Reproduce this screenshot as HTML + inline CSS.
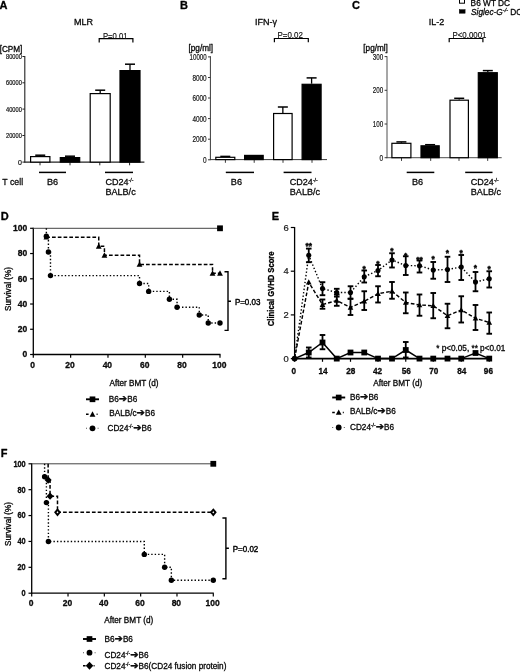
<!DOCTYPE html>
<html lang="en"><head><meta charset="utf-8"><title>Figure</title>
<style>
html,body{margin:0;padding:0;background:#fff;}
body{width:520px;height:672px;overflow:hidden;}
svg{display:block;filter:blur(0.4px);font-family:'Liberation Sans', Arial, Helvetica, sans-serif;}
text{stroke:#000;stroke-width:0.3px;stroke-linejoin:round;}
text.tk{stroke-width:0.2px;}
text.l{stroke-width:0.05px;}
text.n{stroke:none;}
text.m{stroke-width:0.15px;}
text.st{stroke-width:0.4px;}
</style></head><body>
<svg width="520" height="672" viewBox="0 0 520 672">
<rect x="0" y="0" width="520" height="672" fill="#fff"/>
<g id="panelA">
<text x="-0.40" y="9.30" font-size="11" text-anchor="start" font-weight="bold" fill="#000" >A</text>
<text x="83.60" y="24.60" font-size="9" text-anchor="middle" font-weight="normal" fill="#111" >MLR</text>
<text x="11.00" y="52.00" font-size="8.2" text-anchor="middle" font-weight="normal" fill="#111" >[CPM]</text>
<line x1="24.80" y1="56.00" x2="24.80" y2="162.60" stroke="#222" stroke-width="1.1" />
<line x1="24.30" y1="162.10" x2="144.40" y2="162.10" stroke="#222" stroke-width="1.1" />
<line x1="22.40" y1="56.50" x2="24.80" y2="56.50" stroke="#222" stroke-width="1" />
<text x="21.80" y="59.00" font-size="7" text-anchor="end" font-weight="normal" fill="#222" textLength="15.8" lengthAdjust="spacingAndGlyphs" class="tk">80000</text>
<line x1="22.40" y1="82.80" x2="24.80" y2="82.80" stroke="#222" stroke-width="1" />
<text x="21.80" y="85.30" font-size="7" text-anchor="end" font-weight="normal" fill="#222" textLength="15.8" lengthAdjust="spacingAndGlyphs" class="tk">60000</text>
<line x1="22.40" y1="109.10" x2="24.80" y2="109.10" stroke="#222" stroke-width="1" />
<text x="21.80" y="111.60" font-size="7" text-anchor="end" font-weight="normal" fill="#222" textLength="15.8" lengthAdjust="spacingAndGlyphs" class="tk">40000</text>
<line x1="22.40" y1="135.50" x2="24.80" y2="135.50" stroke="#222" stroke-width="1" />
<text x="21.80" y="138.00" font-size="7" text-anchor="end" font-weight="normal" fill="#222" textLength="15.8" lengthAdjust="spacingAndGlyphs" class="tk">20000</text>
<line x1="22.40" y1="162.10" x2="24.80" y2="162.10" stroke="#222" stroke-width="1" />
<text x="21.80" y="164.60" font-size="7" text-anchor="end" font-weight="normal" fill="#222" class="tk">0</text>
<line x1="40.00" y1="162.10" x2="40.00" y2="165.30" stroke="#222" stroke-width="1" />
<line x1="70.00" y1="162.10" x2="70.00" y2="165.30" stroke="#222" stroke-width="1" />
<line x1="99.80" y1="162.10" x2="99.80" y2="165.30" stroke="#222" stroke-width="1" />
<line x1="129.60" y1="162.10" x2="129.60" y2="165.30" stroke="#222" stroke-width="1" />
<line x1="40.25" y1="155.20" x2="40.25" y2="156.00" stroke="#000" stroke-width="1.3" />
<line x1="35.25" y1="155.20" x2="45.25" y2="155.20" stroke="#000" stroke-width="1.5" />
<rect x="30.60" y="156.60" width="19.30" height="5.50" fill="#fff" stroke="#000" stroke-width="1.2"/>
<line x1="70.00" y1="156.20" x2="70.00" y2="157.00" stroke="#000" stroke-width="1.3" />
<line x1="65.00" y1="156.20" x2="75.00" y2="156.20" stroke="#000" stroke-width="1.5" />
<rect x="60.30" y="157.60" width="19.40" height="4.50" fill="#000" stroke="#000" stroke-width="1.2"/>
<line x1="100.20" y1="90.20" x2="100.20" y2="93.00" stroke="#000" stroke-width="1.3" />
<line x1="95.20" y1="90.20" x2="105.20" y2="90.20" stroke="#000" stroke-width="1.5" />
<rect x="90.20" y="93.60" width="20.00" height="68.50" fill="#fff" stroke="#000" stroke-width="1.2"/>
<line x1="130.00" y1="64.20" x2="130.00" y2="70.00" stroke="#000" stroke-width="1.3" />
<line x1="125.00" y1="64.20" x2="135.00" y2="64.20" stroke="#000" stroke-width="1.5" />
<rect x="120.00" y="70.60" width="20.00" height="91.50" fill="#000" stroke="#000" stroke-width="1.2"/>
<line x1="39.00" y1="172.40" x2="66.00" y2="172.40" stroke="#000" stroke-width="1.5" />
<line x1="105.00" y1="172.40" x2="133.00" y2="172.40" stroke="#000" stroke-width="1.5" />
<text x="2.30" y="184.80" font-size="9.6" text-anchor="start" font-weight="normal" fill="#111" textLength="20.8" lengthAdjust="spacingAndGlyphs" >T cell</text>
<text x="46.90" y="184.80" font-size="9.6" text-anchor="start" font-weight="normal" fill="#111" textLength="11.2" lengthAdjust="spacingAndGlyphs" >B6</text>
<text x="105.40" y="184.80" font-size="9.6" fill="#111" textLength="28" lengthAdjust="spacingAndGlyphs">CD24<tspan font-size="5.5" dy="-2.9">-/-</tspan><tspan dy="2.9"></tspan></text>
<text x="105.40" y="195.40" font-size="9.6" text-anchor="start" font-weight="normal" fill="#111" textLength="30.3" lengthAdjust="spacingAndGlyphs" >BALB/c</text>
<path d="M99.20 42.50V38.70H132.90V42.50" fill="none" stroke="#000" stroke-width="1.2"/>
<text x="115.20" y="38.50" font-size="8.6" text-anchor="middle" font-weight="normal" fill="#111" textLength="24.6" lengthAdjust="spacingAndGlyphs" class="m">P=0.01</text>
</g>
<g id="panelB">
<text x="180.00" y="9.30" font-size="11" text-anchor="start" font-weight="bold" fill="#000" >B</text>
<text x="266.00" y="24.60" font-size="9" text-anchor="middle" font-weight="normal" fill="#111" >IFN-γ</text>
<text x="200.80" y="51.00" font-size="8.2" text-anchor="middle" font-weight="normal" fill="#111" >[pg/ml]</text>
<line x1="210.40" y1="56.20" x2="210.40" y2="160.10" stroke="#3a3a3a" stroke-width="1.0" />
<line x1="209.90" y1="159.60" x2="327.00" y2="159.60" stroke="#3a3a3a" stroke-width="1.0" />
<line x1="208.00" y1="56.90" x2="210.40" y2="56.90" stroke="#3a3a3a" stroke-width="1" />
<text x="206.60" y="60.00" font-size="8.8" text-anchor="end" font-weight="normal" fill="#222" textLength="17" lengthAdjust="spacingAndGlyphs" class="tk">10000</text>
<line x1="208.00" y1="77.50" x2="210.40" y2="77.50" stroke="#3a3a3a" stroke-width="1" />
<text x="206.60" y="80.60" font-size="8.8" text-anchor="end" font-weight="normal" fill="#222" textLength="14.2" lengthAdjust="spacingAndGlyphs" class="tk">8000</text>
<line x1="208.00" y1="98.00" x2="210.40" y2="98.00" stroke="#3a3a3a" stroke-width="1" />
<text x="206.60" y="101.10" font-size="8.8" text-anchor="end" font-weight="normal" fill="#222" textLength="14.2" lengthAdjust="spacingAndGlyphs" class="tk">6000</text>
<line x1="208.00" y1="118.60" x2="210.40" y2="118.60" stroke="#3a3a3a" stroke-width="1" />
<text x="206.60" y="121.70" font-size="8.8" text-anchor="end" font-weight="normal" fill="#222" textLength="14.2" lengthAdjust="spacingAndGlyphs" class="tk">4000</text>
<line x1="208.00" y1="139.20" x2="210.40" y2="139.20" stroke="#3a3a3a" stroke-width="1" />
<text x="206.60" y="142.30" font-size="8.8" text-anchor="end" font-weight="normal" fill="#222" textLength="14.2" lengthAdjust="spacingAndGlyphs" class="tk">2000</text>
<line x1="208.00" y1="159.80" x2="210.40" y2="159.80" stroke="#3a3a3a" stroke-width="1" />
<text x="206.60" y="162.90" font-size="8.8" text-anchor="end" font-weight="normal" fill="#222" textLength="3.6" lengthAdjust="spacingAndGlyphs" class="tk">0</text>
<line x1="225.40" y1="159.60" x2="225.40" y2="162.80" stroke="#3a3a3a" stroke-width="1" />
<line x1="254.20" y1="159.60" x2="254.20" y2="162.80" stroke="#3a3a3a" stroke-width="1" />
<line x1="283.00" y1="159.60" x2="283.00" y2="162.80" stroke="#3a3a3a" stroke-width="1" />
<line x1="312.00" y1="159.60" x2="312.00" y2="162.80" stroke="#3a3a3a" stroke-width="1" />
<line x1="225.30" y1="156.40" x2="225.30" y2="156.70" stroke="#000" stroke-width="1.3" />
<line x1="220.30" y1="156.40" x2="230.30" y2="156.40" stroke="#000" stroke-width="1.5" />
<rect x="215.80" y="157.30" width="19.00" height="2.30" fill="#fff" stroke="#000" stroke-width="1.2"/>
<rect x="244.60" y="155.40" width="18.60" height="4.20" fill="#000" stroke="#000" stroke-width="1.2"/>
<line x1="282.85" y1="107.00" x2="282.85" y2="112.90" stroke="#000" stroke-width="1.3" />
<line x1="277.85" y1="107.00" x2="287.85" y2="107.00" stroke="#000" stroke-width="1.5" />
<rect x="273.60" y="113.50" width="18.50" height="46.10" fill="#fff" stroke="#000" stroke-width="1.2"/>
<line x1="311.60" y1="77.90" x2="311.60" y2="83.70" stroke="#000" stroke-width="1.3" />
<line x1="306.60" y1="77.90" x2="316.60" y2="77.90" stroke="#000" stroke-width="1.5" />
<rect x="302.10" y="84.30" width="19.00" height="75.30" fill="#000" stroke="#000" stroke-width="1.2"/>
<line x1="225.80" y1="172.40" x2="254.00" y2="172.40" stroke="#000" stroke-width="1.5" />
<line x1="283.60" y1="172.40" x2="311.50" y2="172.40" stroke="#000" stroke-width="1.5" />
<text x="230.80" y="184.80" font-size="9.6" text-anchor="start" font-weight="normal" fill="#111" textLength="11.2" lengthAdjust="spacingAndGlyphs" >B6</text>
<text x="289.80" y="184.80" font-size="9.6" fill="#111" textLength="28" lengthAdjust="spacingAndGlyphs">CD24<tspan font-size="5.5" dy="-2.9">-/-</tspan><tspan dy="2.9"></tspan></text>
<text x="289.80" y="195.40" font-size="9.6" text-anchor="start" font-weight="normal" fill="#111" textLength="30.3" lengthAdjust="spacingAndGlyphs" >BALB/c</text>
<path d="M274.40 42.30V38.50H308.30V42.30" fill="none" stroke="#000" stroke-width="1.2"/>
<text x="290.20" y="38.30" font-size="8.6" text-anchor="middle" font-weight="normal" fill="#111" textLength="25.4" lengthAdjust="spacingAndGlyphs" class="m">P=0.02</text>
</g>
<g id="panelC">
<text x="352.00" y="9.30" font-size="11" text-anchor="start" font-weight="bold" fill="#000" >C</text>
<text x="436.50" y="24.60" font-size="9" text-anchor="middle" font-weight="normal" fill="#111" >IL-2</text>
<text x="375.60" y="51.00" font-size="8.2" text-anchor="middle" font-weight="normal" fill="#111" >[pg/ml]</text>
<line x1="387.00" y1="56.20" x2="387.00" y2="158.20" stroke="#3a3a3a" stroke-width="0.9" />
<line x1="386.50" y1="157.70" x2="501.70" y2="157.70" stroke="#3a3a3a" stroke-width="0.9" />
<line x1="384.60" y1="56.60" x2="387.00" y2="56.60" stroke="#3a3a3a" stroke-width="1" />
<text x="383.20" y="59.70" font-size="8.8" text-anchor="end" font-weight="normal" fill="#222" textLength="10.4" lengthAdjust="spacingAndGlyphs" class="tk">300</text>
<line x1="384.60" y1="90.30" x2="387.00" y2="90.30" stroke="#3a3a3a" stroke-width="1" />
<text x="383.20" y="93.40" font-size="8.8" text-anchor="end" font-weight="normal" fill="#222" textLength="10.4" lengthAdjust="spacingAndGlyphs" class="tk">200</text>
<line x1="384.60" y1="124.00" x2="387.00" y2="124.00" stroke="#3a3a3a" stroke-width="1" />
<text x="383.20" y="127.10" font-size="8.8" text-anchor="end" font-weight="normal" fill="#222" textLength="10.4" lengthAdjust="spacingAndGlyphs" class="tk">100</text>
<line x1="384.60" y1="157.70" x2="387.00" y2="157.70" stroke="#3a3a3a" stroke-width="1" />
<text x="383.20" y="160.80" font-size="8.8" text-anchor="end" font-weight="normal" fill="#222" textLength="3.6" lengthAdjust="spacingAndGlyphs" class="tk">0</text>
<line x1="401.50" y1="157.70" x2="401.50" y2="160.90" stroke="#3a3a3a" stroke-width="1" />
<line x1="430.70" y1="157.70" x2="430.70" y2="160.90" stroke="#3a3a3a" stroke-width="1" />
<line x1="459.00" y1="157.70" x2="459.00" y2="160.90" stroke="#3a3a3a" stroke-width="1" />
<line x1="487.70" y1="157.70" x2="487.70" y2="160.90" stroke="#3a3a3a" stroke-width="1" />
<line x1="401.40" y1="141.90" x2="401.40" y2="142.70" stroke="#000" stroke-width="1.3" />
<line x1="396.40" y1="141.90" x2="406.40" y2="141.90" stroke="#000" stroke-width="1.5" />
<rect x="391.90" y="143.30" width="19.00" height="14.40" fill="#fff" stroke="#000" stroke-width="1.2"/>
<line x1="430.10" y1="144.70" x2="430.10" y2="145.20" stroke="#000" stroke-width="1.3" />
<line x1="425.10" y1="144.70" x2="435.10" y2="144.70" stroke="#000" stroke-width="1.5" />
<rect x="421.00" y="145.80" width="18.20" height="11.90" fill="#000" stroke="#000" stroke-width="1.2"/>
<line x1="459.20" y1="98.30" x2="459.20" y2="99.60" stroke="#000" stroke-width="1.3" />
<line x1="454.20" y1="98.30" x2="464.20" y2="98.30" stroke="#000" stroke-width="1.5" />
<rect x="450.00" y="100.20" width="18.40" height="57.50" fill="#fff" stroke="#000" stroke-width="1.2"/>
<line x1="487.80" y1="70.60" x2="487.80" y2="72.10" stroke="#000" stroke-width="1.3" />
<line x1="482.80" y1="70.60" x2="492.80" y2="70.60" stroke="#000" stroke-width="1.5" />
<rect x="478.30" y="72.70" width="19.00" height="85.00" fill="#000" stroke="#000" stroke-width="1.2"/>
<line x1="406.70" y1="172.40" x2="434.30" y2="172.40" stroke="#000" stroke-width="1.5" />
<line x1="465.20" y1="172.40" x2="492.50" y2="172.40" stroke="#000" stroke-width="1.5" />
<text x="411.90" y="184.80" font-size="9.6" text-anchor="start" font-weight="normal" fill="#111" textLength="11.2" lengthAdjust="spacingAndGlyphs" >B6</text>
<text x="470.80" y="184.80" font-size="9.6" fill="#111" textLength="28" lengthAdjust="spacingAndGlyphs">CD24<tspan font-size="5.5" dy="-2.9">-/-</tspan><tspan dy="2.9"></tspan></text>
<text x="470.80" y="195.40" font-size="9.6" text-anchor="start" font-weight="normal" fill="#111" textLength="30.3" lengthAdjust="spacingAndGlyphs" >BALB/c</text>
<path d="M449.20 42.30V38.50H482.90V42.30" fill="none" stroke="#000" stroke-width="1.2"/>
<text x="469.50" y="38.30" font-size="8.6" text-anchor="middle" font-weight="normal" fill="#111" textLength="34" lengthAdjust="spacingAndGlyphs" class="m">P&lt;0.0001</text>
<rect x="459.50" y="-2.00" width="5.00" height="5.20" fill="#fff" stroke="#000" stroke-width="1"/>
<rect x="459.30" y="9.70" width="5.80" height="3.50" fill="#000" stroke="#000" stroke-width="0.5"/>
<text x="470.60" y="5.80" font-size="8.3" text-anchor="start" font-weight="normal" fill="#111" >B6 WT DC</text>
<text x="471" y="15.2" font-size="8.3" fill="#111"><tspan font-style="italic">Siglec-G</tspan><tspan font-style="italic" font-size="5.5" dy="-3">-/-</tspan><tspan dy="3"> DC</tspan></text>
</g>
<g id="panelD">
<text x="0.80" y="219.50" font-size="11" text-anchor="start" font-weight="bold" fill="#000" >D</text>
<line x1="33.30" y1="227.80" x2="33.30" y2="355.10" stroke="#000" stroke-width="1.3" />
<line x1="32.70" y1="354.50" x2="220.50" y2="354.50" stroke="#000" stroke-width="1.3" />
<line x1="30.10" y1="354.50" x2="33.30" y2="354.50" stroke="#000" stroke-width="1.2" />
<text x="27.30" y="357.40" font-size="8.5" text-anchor="end" font-weight="bold" fill="#111" >0</text>
<line x1="30.10" y1="329.26" x2="33.30" y2="329.26" stroke="#000" stroke-width="1.2" />
<text x="27.30" y="332.16" font-size="8.5" text-anchor="end" font-weight="bold" fill="#111" >20</text>
<line x1="30.10" y1="304.02" x2="33.30" y2="304.02" stroke="#000" stroke-width="1.2" />
<text x="27.30" y="306.92" font-size="8.5" text-anchor="end" font-weight="bold" fill="#111" >40</text>
<line x1="30.10" y1="278.78" x2="33.30" y2="278.78" stroke="#000" stroke-width="1.2" />
<text x="27.30" y="281.68" font-size="8.5" text-anchor="end" font-weight="bold" fill="#111" >60</text>
<line x1="30.10" y1="253.54" x2="33.30" y2="253.54" stroke="#000" stroke-width="1.2" />
<text x="27.30" y="256.44" font-size="8.5" text-anchor="end" font-weight="bold" fill="#111" >80</text>
<line x1="30.10" y1="228.30" x2="33.30" y2="228.30" stroke="#000" stroke-width="1.2" />
<text x="27.30" y="231.20" font-size="8.5" text-anchor="end" font-weight="bold" fill="#111" >100</text>
<line x1="33.30" y1="354.50" x2="33.30" y2="357.70" stroke="#000" stroke-width="1.2" />
<text x="32.70" y="368.00" font-size="8.5" text-anchor="middle" font-weight="bold" fill="#111" >0</text>
<line x1="70.64" y1="354.50" x2="70.64" y2="357.70" stroke="#000" stroke-width="1.2" />
<text x="70.04" y="368.00" font-size="8.5" text-anchor="middle" font-weight="bold" fill="#111" >20</text>
<line x1="107.98" y1="354.50" x2="107.98" y2="357.70" stroke="#000" stroke-width="1.2" />
<text x="107.38" y="368.00" font-size="8.5" text-anchor="middle" font-weight="bold" fill="#111" >40</text>
<line x1="145.32" y1="354.50" x2="145.32" y2="357.70" stroke="#000" stroke-width="1.2" />
<text x="144.72" y="368.00" font-size="8.5" text-anchor="middle" font-weight="bold" fill="#111" >60</text>
<line x1="182.66" y1="354.50" x2="182.66" y2="357.70" stroke="#000" stroke-width="1.2" />
<text x="182.06" y="368.00" font-size="8.5" text-anchor="middle" font-weight="bold" fill="#111" >80</text>
<line x1="220.00" y1="354.50" x2="220.00" y2="357.70" stroke="#000" stroke-width="1.2" />
<text x="219.40" y="368.00" font-size="8.5" text-anchor="middle" font-weight="bold" fill="#111" >100</text>
<text transform="translate(11.3 289) rotate(-90)" font-size="8.2" text-anchor="middle" fill="#000" stroke-width="0.22">Survival (%)</text>
<text x="109.50" y="386.20" font-size="8.2" text-anchor="start" font-weight="normal" fill="#111" >After BMT (d)</text>
<path d="M33.30 228.30H220.00V228.30" fill="none" stroke="#444" stroke-width="1.0" />
<path d="M46.37 237.13H46.37V237.26H98.74V246.35H104.43V255.31H139.53V264.39H212.53V273.35H220.00V273.35" fill="none" stroke="#000" stroke-width="1.5" stroke-dasharray="3.7 2.07"/>
<path d="M46.37 228.30H46.37V236.19H48.42V251.96H50.48V275.62H139.53V283.51H148.68V291.40H169.40V299.29H177.06V307.18H199.28V315.06H208.24V322.95H220.00V322.95" fill="none" stroke="#000" stroke-width="1.4" stroke-dasharray="1.4 2.06"/>
<rect x="217.10" y="225.40" width="5.80" height="5.80" fill="#000"/>
<path d="M46.37 234.20L49.25 239.60H43.49Z" fill="#000"/>
<path d="M98.74 243.29L101.62 248.69H95.86Z" fill="#000"/>
<path d="M104.43 252.25L107.31 257.65H101.55Z" fill="#000"/>
<path d="M139.53 261.33L142.41 266.73H136.65Z" fill="#000"/>
<path d="M212.53 270.29L215.41 275.69H209.65Z" fill="#000"/>
<path d="M220.00 270.29L222.88 275.69H217.12Z" fill="#000"/>
<circle cx="46.37" cy="236.19" r="2.70" fill="#000"/>
<circle cx="48.42" cy="251.96" r="2.70" fill="#000"/>
<circle cx="50.48" cy="275.62" r="2.70" fill="#000"/>
<circle cx="139.53" cy="283.51" r="2.70" fill="#000"/>
<circle cx="148.68" cy="291.40" r="2.70" fill="#000"/>
<circle cx="169.40" cy="299.29" r="2.70" fill="#000"/>
<circle cx="177.06" cy="307.18" r="2.70" fill="#000"/>
<circle cx="199.28" cy="315.06" r="2.70" fill="#000"/>
<circle cx="208.24" cy="322.95" r="2.70" fill="#000"/>
<circle cx="220.00" cy="322.95" r="2.70" fill="#000"/>
<path d="M224.50 271.80H228.00V330.40H224.50M228.00 301.30H231.00" fill="none" stroke="#000" stroke-width="1.4"/>
<text x="234.90" y="304.60" font-size="8.2" text-anchor="start" font-weight="normal" fill="#000" textLength="25.5" lengthAdjust="spacingAndGlyphs" class="st">P=0.03</text>
<line x1="86.00" y1="399.30" x2="99.00" y2="399.30" stroke="#000" stroke-width="1.9" />
<rect x="89.66" y="396.46" width="5.68" height="5.68" fill="#000"/>
<text x="108.80" y="402.20" font-size="8.2" text-anchor="start" font-weight="normal" fill="#111" >B6<tspan font-family="DejaVu Sans, sans-serif" font-size="10" stroke-width="0.35">➔</tspan>B6</text>
<line x1="86.00" y1="414.30" x2="99.00" y2="414.30" stroke="#000" stroke-width="1.5" stroke-dasharray="2.6 8 1 5"/>
<path d="M92.50 411.24L95.38 416.64H89.62Z" fill="#000"/>
<text x="109.30" y="415.80" font-size="8.2" text-anchor="start" font-weight="normal" fill="#111" >BALB/c<tspan font-family="DejaVu Sans, sans-serif" font-size="10" stroke-width="0.35">➔</tspan>B6</text>
<line x1="86.00" y1="428.30" x2="99.00" y2="428.30" stroke="#555" stroke-width="1.1" stroke-dasharray="1 10.6 1 5"/>
<circle cx="92.50" cy="428.30" r="2.91" fill="#000"/>
<text x="107.50" y="430.90" font-size="8.2" fill="#111">CD24<tspan font-size="5" dy="-3">-/-</tspan><tspan dy="3"><tspan font-family="DejaVu Sans, sans-serif" font-size="10" stroke-width="0.35">➔</tspan>B6</tspan></text>
</g>
<g id="panelF">
<text x="0.80" y="456.70" font-size="11" text-anchor="start" font-weight="bold" fill="#000" >F</text>
<line x1="31.70" y1="463.30" x2="31.70" y2="593.80" stroke="#000" stroke-width="1.3" />
<line x1="31.10" y1="593.20" x2="213.80" y2="593.20" stroke="#000" stroke-width="1.3" />
<line x1="28.50" y1="593.20" x2="31.70" y2="593.20" stroke="#000" stroke-width="1.2" />
<text x="25.70" y="596.10" font-size="8.5" text-anchor="end" font-weight="bold" fill="#111" textLength="4.1" lengthAdjust="spacingAndGlyphs" >0</text>
<line x1="28.50" y1="567.32" x2="31.70" y2="567.32" stroke="#000" stroke-width="1.2" />
<text x="25.70" y="570.22" font-size="8.5" text-anchor="end" font-weight="bold" fill="#111" textLength="8.2" lengthAdjust="spacingAndGlyphs" >20</text>
<line x1="28.50" y1="541.44" x2="31.70" y2="541.44" stroke="#000" stroke-width="1.2" />
<text x="25.70" y="544.34" font-size="8.5" text-anchor="end" font-weight="bold" fill="#111" textLength="8.2" lengthAdjust="spacingAndGlyphs" >40</text>
<line x1="28.50" y1="515.56" x2="31.70" y2="515.56" stroke="#000" stroke-width="1.2" />
<text x="25.70" y="518.46" font-size="8.5" text-anchor="end" font-weight="bold" fill="#111" textLength="8.2" lengthAdjust="spacingAndGlyphs" >60</text>
<line x1="28.50" y1="489.68" x2="31.70" y2="489.68" stroke="#000" stroke-width="1.2" />
<text x="25.70" y="492.58" font-size="8.5" text-anchor="end" font-weight="bold" fill="#111" textLength="8.2" lengthAdjust="spacingAndGlyphs" >80</text>
<line x1="28.50" y1="463.80" x2="31.70" y2="463.80" stroke="#000" stroke-width="1.2" />
<text x="25.70" y="466.70" font-size="8.5" text-anchor="end" font-weight="bold" fill="#111" textLength="12.299999999999999" lengthAdjust="spacingAndGlyphs" >100</text>
<line x1="31.70" y1="593.20" x2="31.70" y2="596.40" stroke="#000" stroke-width="1.2" />
<text x="31.10" y="606.30" font-size="8.5" text-anchor="middle" font-weight="bold" fill="#111" >0</text>
<line x1="68.02" y1="593.20" x2="68.02" y2="596.40" stroke="#000" stroke-width="1.2" />
<text x="67.42" y="606.30" font-size="8.5" text-anchor="middle" font-weight="bold" fill="#111" >20</text>
<line x1="104.34" y1="593.20" x2="104.34" y2="596.40" stroke="#000" stroke-width="1.2" />
<text x="103.74" y="606.30" font-size="8.5" text-anchor="middle" font-weight="bold" fill="#111" >40</text>
<line x1="140.66" y1="593.20" x2="140.66" y2="596.40" stroke="#000" stroke-width="1.2" />
<text x="140.06" y="606.30" font-size="8.5" text-anchor="middle" font-weight="bold" fill="#111" >60</text>
<line x1="176.98" y1="593.20" x2="176.98" y2="596.40" stroke="#000" stroke-width="1.2" />
<text x="176.38" y="606.30" font-size="8.5" text-anchor="middle" font-weight="bold" fill="#111" >80</text>
<line x1="213.30" y1="593.20" x2="213.30" y2="596.40" stroke="#000" stroke-width="1.2" />
<text x="212.70" y="606.30" font-size="8.5" text-anchor="middle" font-weight="bold" fill="#111" >100</text>
<text transform="translate(11.3 524) rotate(-90)" font-size="8.2" text-anchor="middle" fill="#000" stroke-width="0.22">Survival (%)</text>
<text x="104.30" y="623.00" font-size="8.2" text-anchor="start" font-weight="normal" fill="#111" >After BMT (d)</text>
<path d="M31.70 463.80H213.30V463.80" fill="none" stroke="#444" stroke-width="1.0" />
<path d="M48.13 463.80H48.13V479.98H50.04V496.15H57.49V512.33H213.30V512.33" fill="none" stroke="#000" stroke-width="1.5" stroke-dasharray="3.7 2.07"/>
<path d="M44.59 463.80H44.59V476.74H46.41V502.62H48.41V541.44H144.29V554.38H164.63V567.32H171.35V580.26H213.30V580.26" fill="none" stroke="#000" stroke-width="1.4" stroke-dasharray="1.4 2.06"/>
<rect x="210.40" y="460.90" width="5.80" height="5.80" fill="#000"/>
<path d="M48.13 476.27L51.64 479.98L48.13 483.68L44.63 479.98Z" fill="#000"/>
<path d="M50.04 492.44L53.54 496.15L50.04 499.86L46.54 496.15Z" fill="#000"/>
<path d="M57.49 509.73L59.69 512.33L57.49 514.93L55.29 512.33Z" fill="#fff" stroke="#000" stroke-width="1.9"/>
<path d="M213.30 509.73L215.50 512.33L213.30 514.93L211.10 512.33Z" fill="#fff" stroke="#000" stroke-width="1.9"/>
<circle cx="44.59" cy="476.74" r="2.70" fill="#000"/>
<circle cx="46.41" cy="502.62" r="2.70" fill="#000"/>
<circle cx="48.41" cy="541.44" r="2.70" fill="#000"/>
<circle cx="144.29" cy="554.38" r="2.70" fill="#000"/>
<circle cx="164.63" cy="567.32" r="2.70" fill="#000"/>
<circle cx="171.35" cy="580.26" r="2.70" fill="#000"/>
<circle cx="213.30" cy="580.26" r="2.70" fill="#000"/>
<path d="M222.40 518.00H225.90V578.70H222.40M225.90 548.20H228.90" fill="none" stroke="#000" stroke-width="1.4"/>
<text x="232.80" y="551.50" font-size="8.2" text-anchor="start" font-weight="normal" fill="#000" textLength="25.5" lengthAdjust="spacingAndGlyphs" class="st">P=0.02</text>
<line x1="83.00" y1="639.00" x2="96.00" y2="639.00" stroke="#000" stroke-width="1.9" />
<rect x="86.66" y="636.16" width="5.68" height="5.68" fill="#000"/>
<text x="104.50" y="641.70" font-size="8.2" text-anchor="start" font-weight="normal" fill="#111" >B6<tspan font-family="DejaVu Sans, sans-serif" font-size="10" stroke-width="0.35">➔</tspan>B6</text>
<line x1="83.00" y1="652.70" x2="96.00" y2="652.70" stroke="#555" stroke-width="1.1" stroke-dasharray="1 10.6 1 5"/>
<circle cx="89.50" cy="652.70" r="2.91" fill="#000"/>
<text x="104.50" y="658.30" font-size="8.2" fill="#111">CD24<tspan font-size="5" dy="-3">-/-</tspan><tspan dy="3"><tspan font-family="DejaVu Sans, sans-serif" font-size="10" stroke-width="0.35">➔</tspan>B6</tspan></text>
<line x1="83.00" y1="665.80" x2="96.00" y2="665.80" stroke="#000" stroke-width="1.5" stroke-dasharray="2.6 8 1 5"/>
<path d="M89.50 661.84L93.24 665.80L89.50 669.76L85.76 665.80Z" fill="#000"/>
<text x="104.50" y="668.60" font-size="8.2" fill="#111">CD24<tspan font-size="5" dy="-3">-/-</tspan><tspan dy="3"><tspan font-family="DejaVu Sans, sans-serif" font-size="10" stroke-width="0.35">➔</tspan>B6(CD24 fusion protein)</tspan></text>
</g>
<g id="panelE">
<text x="271.80" y="219.50" font-size="11" text-anchor="start" font-weight="bold" fill="#000" >E</text>
<line x1="294.60" y1="227.00" x2="294.60" y2="359.20" stroke="#000" stroke-width="1.3" />
<line x1="290.80" y1="358.60" x2="294.60" y2="358.60" stroke="#000" stroke-width="1.2" />
<text x="288.80" y="361.80" font-size="9.4" text-anchor="end" font-weight="normal" fill="#2a2a2a" class="tk">0</text>
<line x1="290.80" y1="314.90" x2="294.60" y2="314.90" stroke="#000" stroke-width="1.2" />
<text x="288.80" y="318.10" font-size="9.4" text-anchor="end" font-weight="normal" fill="#2a2a2a" class="tk">2</text>
<line x1="290.80" y1="271.20" x2="294.60" y2="271.20" stroke="#000" stroke-width="1.2" />
<text x="288.80" y="274.40" font-size="9.4" text-anchor="end" font-weight="normal" fill="#2a2a2a" class="tk">4</text>
<line x1="290.80" y1="227.50" x2="294.60" y2="227.50" stroke="#000" stroke-width="1.2" />
<text x="288.80" y="230.70" font-size="9.4" text-anchor="end" font-weight="normal" fill="#2a2a2a" class="tk">6</text>
<text transform="translate(274.3 288.8) rotate(-90)" font-size="8.3" font-weight="bold" textLength="74.8" lengthAdjust="spacingAndGlyphs" text-anchor="middle" fill="#000" stroke-width="0">Clinical GVHD Score</text>
<line x1="294.00" y1="358.60" x2="491.50" y2="358.60" stroke="#000" stroke-width="1.6" />
<line x1="294.60" y1="358.60" x2="294.60" y2="361.80" stroke="#000" stroke-width="1.2" />
<line x1="322.50" y1="358.60" x2="322.50" y2="361.80" stroke="#000" stroke-width="1.2" />
<line x1="350.50" y1="358.60" x2="350.50" y2="361.80" stroke="#000" stroke-width="1.2" />
<line x1="378.00" y1="358.60" x2="378.00" y2="361.80" stroke="#000" stroke-width="1.2" />
<line x1="405.75" y1="358.60" x2="405.75" y2="361.80" stroke="#000" stroke-width="1.2" />
<line x1="433.25" y1="358.60" x2="433.25" y2="361.80" stroke="#000" stroke-width="1.2" />
<line x1="461.25" y1="358.60" x2="461.25" y2="361.80" stroke="#000" stroke-width="1.2" />
<line x1="489.25" y1="358.60" x2="489.25" y2="361.80" stroke="#000" stroke-width="1.2" />
<text x="293.90" y="373.80" font-size="8.2" text-anchor="middle" font-weight="bold" fill="#111" >0</text>
<text x="323.00" y="373.80" font-size="8.2" text-anchor="middle" font-weight="bold" fill="#111" >14</text>
<text x="350.80" y="373.80" font-size="8.2" text-anchor="middle" font-weight="bold" fill="#111" >28</text>
<text x="377.60" y="373.80" font-size="8.2" text-anchor="middle" font-weight="bold" fill="#111" >42</text>
<text x="406.20" y="373.80" font-size="8.2" text-anchor="middle" font-weight="bold" fill="#111" >56</text>
<text x="433.80" y="373.80" font-size="8.2" text-anchor="middle" font-weight="bold" fill="#111" >70</text>
<text x="461.70" y="373.80" font-size="8.2" text-anchor="middle" font-weight="bold" fill="#111" >84</text>
<text x="488.40" y="373.80" font-size="8.2" text-anchor="middle" font-weight="bold" fill="#111" >96</text>
<text x="373.20" y="385.60" font-size="8.2" text-anchor="start" font-weight="normal" fill="#111" >After BMT (d)</text>
<text x="436.20" y="350.80" font-size="8.2" text-anchor="start" font-weight="normal" fill="#111" >* p&lt;0.05, ** p&lt;0.01</text>
<polyline points="294.60,358.60 308.75,282.30 322.50,304.60 336.75,300.50 350.50,307.50 364.25,301.25 378.00,293.75 392.00,291.25 405.75,302.50 419.50,305.00 433.25,305.75 447.50,315.75 461.25,310.00 475.50,318.25 489.25,322.50" fill="none" stroke="#000" stroke-width="1.45" stroke-dasharray="3.7 2.07"/>
<path d="M308.75 279.31L311.57 284.59H305.93Z" fill="#000"/>
<line x1="322.50" y1="299.50" x2="322.50" y2="308.75" stroke="#000" stroke-width="1.8" />
<line x1="319.70" y1="299.50" x2="325.30" y2="299.50" stroke="#000" stroke-width="1.9" />
<line x1="319.70" y1="308.75" x2="325.30" y2="308.75" stroke="#000" stroke-width="1.9" />
<path d="M322.50 301.61L325.32 306.89H319.68Z" fill="#000"/>
<line x1="336.75" y1="294.50" x2="336.75" y2="305.80" stroke="#000" stroke-width="1.8" />
<line x1="333.95" y1="294.50" x2="339.55" y2="294.50" stroke="#000" stroke-width="1.9" />
<line x1="333.95" y1="305.80" x2="339.55" y2="305.80" stroke="#000" stroke-width="1.9" />
<path d="M336.75 297.51L339.57 302.79H333.93Z" fill="#000"/>
<line x1="350.50" y1="298.75" x2="350.50" y2="315.00" stroke="#000" stroke-width="1.8" />
<line x1="347.70" y1="298.75" x2="353.30" y2="298.75" stroke="#000" stroke-width="1.9" />
<line x1="347.70" y1="315.00" x2="353.30" y2="315.00" stroke="#000" stroke-width="1.9" />
<path d="M350.50 304.51L353.32 309.79H347.68Z" fill="#000"/>
<line x1="364.25" y1="291.25" x2="364.25" y2="310.00" stroke="#000" stroke-width="1.8" />
<line x1="361.45" y1="291.25" x2="367.05" y2="291.25" stroke="#000" stroke-width="1.9" />
<line x1="361.45" y1="310.00" x2="367.05" y2="310.00" stroke="#000" stroke-width="1.9" />
<path d="M364.25 298.26L367.07 303.54H361.43Z" fill="#000"/>
<line x1="378.00" y1="286.25" x2="378.00" y2="302.50" stroke="#000" stroke-width="1.8" />
<line x1="375.20" y1="286.25" x2="380.80" y2="286.25" stroke="#000" stroke-width="1.9" />
<line x1="375.20" y1="302.50" x2="380.80" y2="302.50" stroke="#000" stroke-width="1.9" />
<path d="M378.00 290.76L380.82 296.04H375.18Z" fill="#000"/>
<line x1="392.00" y1="282.00" x2="392.00" y2="298.75" stroke="#000" stroke-width="1.8" />
<line x1="389.20" y1="282.00" x2="394.80" y2="282.00" stroke="#000" stroke-width="1.9" />
<line x1="389.20" y1="298.75" x2="394.80" y2="298.75" stroke="#000" stroke-width="1.9" />
<path d="M392.00 288.26L394.82 293.54H389.18Z" fill="#000"/>
<line x1="405.75" y1="292.50" x2="405.75" y2="313.25" stroke="#000" stroke-width="1.8" />
<line x1="402.95" y1="292.50" x2="408.55" y2="292.50" stroke="#000" stroke-width="1.9" />
<line x1="402.95" y1="313.25" x2="408.55" y2="313.25" stroke="#000" stroke-width="1.9" />
<path d="M405.75 299.51L408.57 304.79H402.93Z" fill="#000"/>
<line x1="419.50" y1="294.50" x2="419.50" y2="315.75" stroke="#000" stroke-width="1.8" />
<line x1="416.70" y1="294.50" x2="422.30" y2="294.50" stroke="#000" stroke-width="1.9" />
<line x1="416.70" y1="315.75" x2="422.30" y2="315.75" stroke="#000" stroke-width="1.9" />
<path d="M419.50 302.01L422.32 307.29H416.68Z" fill="#000"/>
<line x1="433.25" y1="293.00" x2="433.25" y2="318.25" stroke="#000" stroke-width="1.8" />
<line x1="430.45" y1="293.00" x2="436.05" y2="293.00" stroke="#000" stroke-width="1.9" />
<line x1="430.45" y1="318.25" x2="436.05" y2="318.25" stroke="#000" stroke-width="1.9" />
<path d="M433.25 302.76L436.07 308.04H430.43Z" fill="#000"/>
<line x1="447.50" y1="303.75" x2="447.50" y2="328.25" stroke="#000" stroke-width="1.8" />
<line x1="444.70" y1="303.75" x2="450.30" y2="303.75" stroke="#000" stroke-width="1.9" />
<line x1="444.70" y1="328.25" x2="450.30" y2="328.25" stroke="#000" stroke-width="1.9" />
<path d="M447.50 312.76L450.32 318.04H444.68Z" fill="#000"/>
<line x1="461.25" y1="296.25" x2="461.25" y2="322.50" stroke="#000" stroke-width="1.8" />
<line x1="458.45" y1="296.25" x2="464.05" y2="296.25" stroke="#000" stroke-width="1.9" />
<line x1="458.45" y1="322.50" x2="464.05" y2="322.50" stroke="#000" stroke-width="1.9" />
<path d="M461.25 307.01L464.07 312.29H458.43Z" fill="#000"/>
<line x1="475.50" y1="305.00" x2="475.50" y2="330.00" stroke="#000" stroke-width="1.8" />
<line x1="472.70" y1="305.00" x2="478.30" y2="305.00" stroke="#000" stroke-width="1.9" />
<line x1="472.70" y1="330.00" x2="478.30" y2="330.00" stroke="#000" stroke-width="1.9" />
<path d="M475.50 315.26L478.32 320.54H472.68Z" fill="#000"/>
<line x1="489.25" y1="312.50" x2="489.25" y2="333.75" stroke="#000" stroke-width="1.8" />
<line x1="486.45" y1="312.50" x2="492.05" y2="312.50" stroke="#000" stroke-width="1.9" />
<line x1="486.45" y1="333.75" x2="492.05" y2="333.75" stroke="#000" stroke-width="1.9" />
<path d="M489.25 319.51L492.07 324.79H486.43Z" fill="#000"/>
<polyline points="294.60,358.60 308.75,255.30 322.50,288.60 336.75,292.50 350.50,292.50 364.25,276.75 378.00,270.50 392.00,260.00 405.75,265.50 419.50,265.75 433.25,270.00 447.50,269.50 461.25,267.00 475.50,282.00 489.25,278.75" fill="none" stroke="#000" stroke-width="1.4" stroke-dasharray="1.4 2.06"/>
<line x1="308.75" y1="248.60" x2="308.75" y2="262.20" stroke="#000" stroke-width="1.8" />
<line x1="305.95" y1="248.60" x2="311.55" y2="248.60" stroke="#000" stroke-width="1.9" />
<line x1="305.95" y1="262.20" x2="311.55" y2="262.20" stroke="#000" stroke-width="1.9" />
<circle cx="308.75" cy="255.30" r="2.55" fill="#000"/>
<line x1="322.50" y1="282.20" x2="322.50" y2="295.20" stroke="#000" stroke-width="1.8" />
<line x1="319.70" y1="282.20" x2="325.30" y2="282.20" stroke="#000" stroke-width="1.9" />
<line x1="319.70" y1="295.20" x2="325.30" y2="295.20" stroke="#000" stroke-width="1.9" />
<circle cx="322.50" cy="288.60" r="2.55" fill="#000"/>
<line x1="336.75" y1="288.80" x2="336.75" y2="296.60" stroke="#000" stroke-width="1.8" />
<line x1="333.95" y1="288.80" x2="339.55" y2="288.80" stroke="#000" stroke-width="1.9" />
<line x1="333.95" y1="296.60" x2="339.55" y2="296.60" stroke="#000" stroke-width="1.9" />
<circle cx="336.75" cy="292.50" r="2.55" fill="#000"/>
<line x1="350.50" y1="286.25" x2="350.50" y2="298.75" stroke="#000" stroke-width="1.8" />
<line x1="347.70" y1="286.25" x2="353.30" y2="286.25" stroke="#000" stroke-width="1.9" />
<line x1="347.70" y1="298.75" x2="353.30" y2="298.75" stroke="#000" stroke-width="1.9" />
<circle cx="350.50" cy="292.50" r="2.55" fill="#000"/>
<line x1="364.25" y1="270.50" x2="364.25" y2="282.50" stroke="#000" stroke-width="1.8" />
<line x1="361.45" y1="270.50" x2="367.05" y2="270.50" stroke="#000" stroke-width="1.9" />
<line x1="361.45" y1="282.50" x2="367.05" y2="282.50" stroke="#000" stroke-width="1.9" />
<circle cx="364.25" cy="276.75" r="2.55" fill="#000"/>
<line x1="378.00" y1="265.00" x2="378.00" y2="276.25" stroke="#000" stroke-width="1.8" />
<line x1="375.20" y1="265.00" x2="380.80" y2="265.00" stroke="#000" stroke-width="1.9" />
<line x1="375.20" y1="276.25" x2="380.80" y2="276.25" stroke="#000" stroke-width="1.9" />
<circle cx="378.00" cy="270.50" r="2.55" fill="#000"/>
<line x1="392.00" y1="253.25" x2="392.00" y2="267.50" stroke="#000" stroke-width="1.8" />
<line x1="389.20" y1="253.25" x2="394.80" y2="253.25" stroke="#000" stroke-width="1.9" />
<line x1="389.20" y1="267.50" x2="394.80" y2="267.50" stroke="#000" stroke-width="1.9" />
<circle cx="392.00" cy="260.00" r="2.55" fill="#000"/>
<line x1="405.75" y1="256.25" x2="405.75" y2="275.00" stroke="#000" stroke-width="1.8" />
<line x1="402.95" y1="256.25" x2="408.55" y2="256.25" stroke="#000" stroke-width="1.9" />
<line x1="402.95" y1="275.00" x2="408.55" y2="275.00" stroke="#000" stroke-width="1.9" />
<circle cx="405.75" cy="265.50" r="2.55" fill="#000"/>
<line x1="419.50" y1="260.50" x2="419.50" y2="272.50" stroke="#000" stroke-width="1.8" />
<line x1="416.70" y1="260.50" x2="422.30" y2="260.50" stroke="#000" stroke-width="1.9" />
<line x1="416.70" y1="272.50" x2="422.30" y2="272.50" stroke="#000" stroke-width="1.9" />
<circle cx="419.50" cy="265.75" r="2.55" fill="#000"/>
<line x1="433.25" y1="262.00" x2="433.25" y2="278.75" stroke="#000" stroke-width="1.8" />
<line x1="430.45" y1="262.00" x2="436.05" y2="262.00" stroke="#000" stroke-width="1.9" />
<line x1="430.45" y1="278.75" x2="436.05" y2="278.75" stroke="#000" stroke-width="1.9" />
<circle cx="433.25" cy="270.00" r="2.55" fill="#000"/>
<line x1="447.50" y1="256.75" x2="447.50" y2="282.00" stroke="#000" stroke-width="1.8" />
<line x1="444.70" y1="256.75" x2="450.30" y2="256.75" stroke="#000" stroke-width="1.9" />
<line x1="444.70" y1="282.00" x2="450.30" y2="282.00" stroke="#000" stroke-width="1.9" />
<circle cx="447.50" cy="269.50" r="2.55" fill="#000"/>
<line x1="461.25" y1="255.00" x2="461.25" y2="280.00" stroke="#000" stroke-width="1.8" />
<line x1="458.45" y1="255.00" x2="464.05" y2="255.00" stroke="#000" stroke-width="1.9" />
<line x1="458.45" y1="280.00" x2="464.05" y2="280.00" stroke="#000" stroke-width="1.9" />
<circle cx="461.25" cy="267.00" r="2.55" fill="#000"/>
<line x1="475.50" y1="272.00" x2="475.50" y2="291.25" stroke="#000" stroke-width="1.8" />
<line x1="472.70" y1="272.00" x2="478.30" y2="272.00" stroke="#000" stroke-width="1.9" />
<line x1="472.70" y1="291.25" x2="478.30" y2="291.25" stroke="#000" stroke-width="1.9" />
<circle cx="475.50" cy="282.00" r="2.55" fill="#000"/>
<line x1="489.25" y1="271.25" x2="489.25" y2="287.50" stroke="#000" stroke-width="1.8" />
<line x1="486.45" y1="271.25" x2="492.05" y2="271.25" stroke="#000" stroke-width="1.9" />
<line x1="486.45" y1="287.50" x2="492.05" y2="287.50" stroke="#000" stroke-width="1.9" />
<circle cx="489.25" cy="278.75" r="2.55" fill="#000"/>
<polyline points="294.60,358.60 308.75,352.50 322.50,342.50 336.75,358.60 350.50,352.50 364.25,352.50 378.00,358.60 392.00,358.60 405.75,350.00 419.50,358.60 433.25,358.60 447.50,358.60 461.25,358.60 475.50,353.00 489.25,358.60" fill="none" stroke="#000" stroke-width="1.5" />
<line x1="308.75" y1="347.50" x2="308.75" y2="357.50" stroke="#000" stroke-width="1.8" />
<line x1="305.95" y1="347.50" x2="311.55" y2="347.50" stroke="#000" stroke-width="1.9" />
<line x1="305.95" y1="357.50" x2="311.55" y2="357.50" stroke="#000" stroke-width="1.9" />
<rect x="305.85" y="349.60" width="5.80" height="5.80" fill="#000"/>
<line x1="322.50" y1="335.00" x2="322.50" y2="349.25" stroke="#000" stroke-width="1.8" />
<line x1="319.70" y1="335.00" x2="325.30" y2="335.00" stroke="#000" stroke-width="1.9" />
<line x1="319.70" y1="349.25" x2="325.30" y2="349.25" stroke="#000" stroke-width="1.9" />
<rect x="319.60" y="339.60" width="5.80" height="5.80" fill="#000"/>
<rect x="333.85" y="355.70" width="5.80" height="5.80" fill="#000"/>
<rect x="347.60" y="349.60" width="5.80" height="5.80" fill="#000"/>
<rect x="361.35" y="349.60" width="5.80" height="5.80" fill="#000"/>
<rect x="375.10" y="355.70" width="5.80" height="5.80" fill="#000"/>
<rect x="389.10" y="355.70" width="5.80" height="5.80" fill="#000"/>
<line x1="405.75" y1="342.00" x2="405.75" y2="357.50" stroke="#000" stroke-width="1.8" />
<line x1="402.95" y1="342.00" x2="408.55" y2="342.00" stroke="#000" stroke-width="1.9" />
<line x1="402.95" y1="357.50" x2="408.55" y2="357.50" stroke="#000" stroke-width="1.9" />
<rect x="402.85" y="347.10" width="5.80" height="5.80" fill="#000"/>
<rect x="416.60" y="355.70" width="5.80" height="5.80" fill="#000"/>
<rect x="430.35" y="355.70" width="5.80" height="5.80" fill="#000"/>
<rect x="444.60" y="355.70" width="5.80" height="5.80" fill="#000"/>
<rect x="458.35" y="355.70" width="5.80" height="5.80" fill="#000"/>
<rect x="472.60" y="350.10" width="5.80" height="5.80" fill="#000"/>
<rect x="486.35" y="355.70" width="5.80" height="5.80" fill="#000"/>
<circle cx="294.60" cy="358.60" r="2.90" fill="#000"/>
<text x="308.75" y="248.90" font-size="8.4" text-anchor="middle" font-weight="bold" fill="#000" class="st">**</text>
<text x="364.25" y="272.40" font-size="8.4" text-anchor="middle" font-weight="bold" fill="#000" class="st">*</text>
<text x="378.00" y="267.40" font-size="8.4" text-anchor="middle" font-weight="bold" fill="#000" class="st">*</text>
<text x="392.00" y="254.40" font-size="8.4" text-anchor="middle" font-weight="bold" fill="#000" class="st">*</text>
<text x="405.75" y="259.20" font-size="8.4" text-anchor="middle" font-weight="bold" fill="#000" class="st">*</text>
<text x="419.50" y="262.80" font-size="8.4" text-anchor="middle" font-weight="bold" fill="#000" class="st">**</text>
<text x="433.25" y="261.60" font-size="8.4" text-anchor="middle" font-weight="bold" fill="#000" class="st">*</text>
<text x="447.50" y="255.60" font-size="8.4" text-anchor="middle" font-weight="bold" fill="#000" class="st">*</text>
<text x="461.25" y="255.60" font-size="8.4" text-anchor="middle" font-weight="bold" fill="#000" class="st">*</text>
<text x="475.50" y="271.00" font-size="8.4" text-anchor="middle" font-weight="bold" fill="#000" class="st">*</text>
<text x="489.25" y="272.40" font-size="8.4" text-anchor="middle" font-weight="bold" fill="#000" class="st">*</text>
<line x1="332.20" y1="397.50" x2="345.20" y2="397.50" stroke="#000" stroke-width="1.9" />
<rect x="335.86" y="394.66" width="5.68" height="5.68" fill="#000"/>
<text x="350.00" y="399.80" font-size="8.2" text-anchor="start" font-weight="normal" fill="#111" >B6<tspan font-family="DejaVu Sans, sans-serif" font-size="10" stroke-width="0.35">➔</tspan>B6</text>
<line x1="332.20" y1="412.50" x2="345.20" y2="412.50" stroke="#000" stroke-width="1.5" stroke-dasharray="2.6 8 1 5"/>
<path d="M338.70 409.44L341.58 414.84H335.82Z" fill="#000"/>
<text x="350.00" y="414.00" font-size="8.2" text-anchor="start" font-weight="normal" fill="#111" >BALB/c<tspan font-family="DejaVu Sans, sans-serif" font-size="10" stroke-width="0.35">➔</tspan>B6</text>
<line x1="332.20" y1="427.50" x2="345.20" y2="427.50" stroke="#555" stroke-width="1.1" stroke-dasharray="1 10.6 1 5"/>
<circle cx="338.70" cy="427.50" r="2.91" fill="#000"/>
<text x="350.00" y="429.70" font-size="8.2" fill="#111">CD24<tspan font-size="5" dy="-3">-/-</tspan><tspan dy="3"><tspan font-family="DejaVu Sans, sans-serif" font-size="10" stroke-width="0.35">➔</tspan>B6</tspan></text>
</g>
</svg>
</body></html>
